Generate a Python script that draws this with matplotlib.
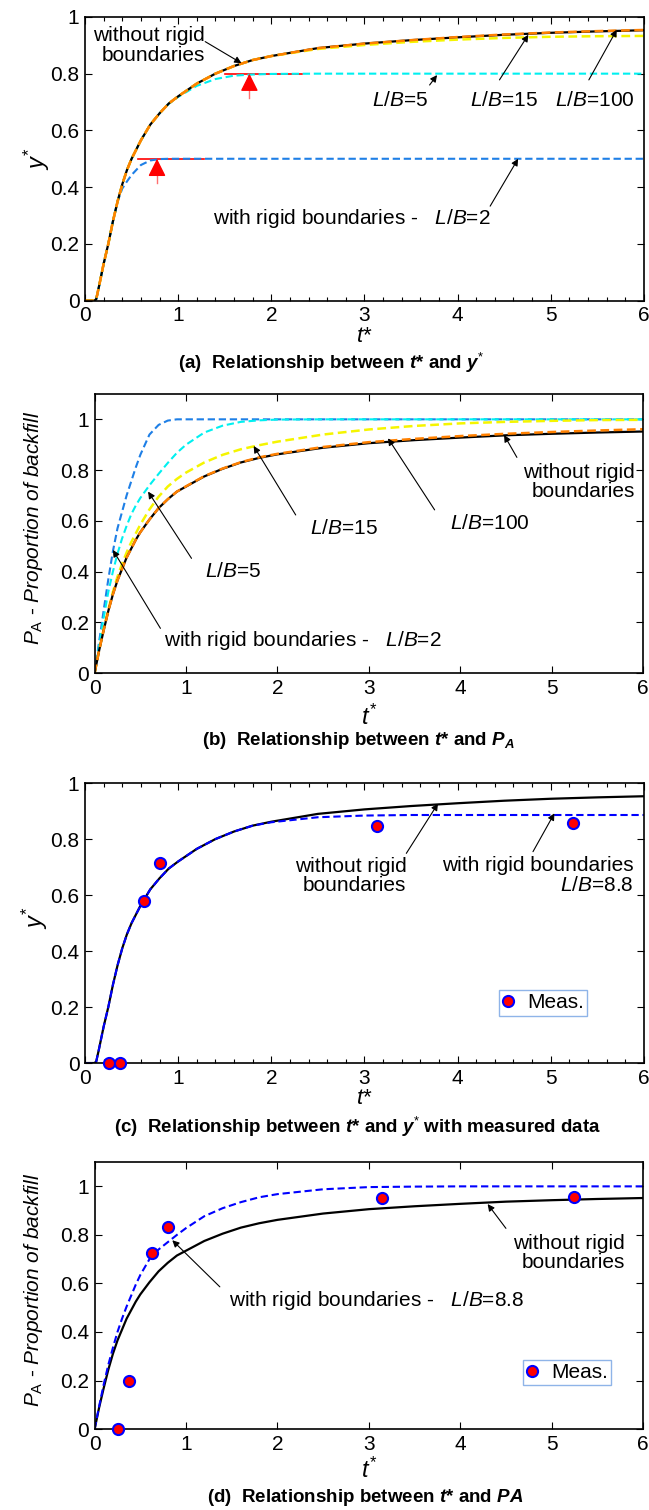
import numpy as np
import matplotlib
matplotlib.use("Agg")
import matplotlib.pyplot as plt
from matplotlib.ticker import MultipleLocator, FuncFormatter

plt.rcParams['font.family'] = ['Liberation Sans', 'DejaVu Sans']
plt.rcParams['mathtext.fontset'] = 'custom'
plt.rcParams['mathtext.rm'] = 'Liberation Sans'
plt.rcParams['mathtext.it'] = 'Liberation Sans:italic'
plt.rcParams['mathtext.bf'] = 'Liberation Sans:bold'
plt.rcParams['mathtext.bfit'] = 'Liberation Sans:italic:bold'

# --- data ---
t_y = [0, 0.1, 0.12, 0.15, 0.2, 0.25, 0.3, 0.35, 0.4, 0.45, 0.5, 0.6, 0.7, 0.8, 0.9,
       1.0, 1.2, 1.4, 1.6, 1.8, 2.0, 2.5, 3.0, 3.5, 4.0, 4.5, 5.0, 5.5, 6.0]
y_free = [0, 0, 0.005, 0.05, 0.13, 0.2, 0.28, 0.35, 0.41, 0.46, 0.50, 0.565, 0.62, 0.66, 0.695,
          0.72, 0.765, 0.80, 0.827, 0.848, 0.862, 0.89, 0.906, 0.918, 0.928, 0.937, 0.944, 0.949, 0.953]
y_lb100 = [0, 0, 0.005, 0.05, 0.13, 0.2, 0.28, 0.35, 0.41, 0.46, 0.50, 0.565, 0.62, 0.66, 0.695,
           0.72, 0.765, 0.80, 0.827, 0.848, 0.862, 0.89, 0.906, 0.918, 0.929, 0.938, 0.945, 0.950, 0.954]
y_lb15 = [0, 0, 0.005, 0.05, 0.13, 0.2, 0.28, 0.35, 0.41, 0.46, 0.50, 0.565, 0.62, 0.66, 0.695,
          0.72, 0.765, 0.80, 0.827, 0.848, 0.862, 0.887, 0.901, 0.912, 0.92, 0.926, 0.93, 0.932, 0.933]
y_lb5 = [0, 0, 0.005, 0.05, 0.13, 0.2, 0.28, 0.35, 0.41, 0.46, 0.50, 0.565, 0.62, 0.66, 0.694,
         0.718, 0.757, 0.781, 0.793, 0.797, 0.799, 0.8, 0.8, 0.8, 0.8, 0.8, 0.8, 0.8, 0.8]
y_lb2 = [0, 0, 0.005, 0.05, 0.13, 0.2, 0.28, 0.35, 0.395, 0.42, 0.443, 0.478, 0.494, 0.499, 0.5,
         0.5, 0.5, 0.5, 0.5, 0.5, 0.5, 0.5, 0.5, 0.5, 0.5, 0.5, 0.5, 0.5, 0.5]
y_lb88 = [0, 0, 0.005, 0.05, 0.13, 0.2, 0.28, 0.35, 0.41, 0.46, 0.50, 0.565, 0.62, 0.66, 0.695,
          0.72, 0.765, 0.80, 0.827, 0.848, 0.860, 0.878, 0.884, 0.886, 0.886, 0.886, 0.886, 0.886, 0.886]

t_p = [0, 0.05, 0.1, 0.15, 0.2, 0.25, 0.3, 0.35, 0.4, 0.45, 0.5, 0.6, 0.7, 0.8, 0.9,
       1.0, 1.2, 1.4, 1.6, 1.8, 2.0, 2.5, 3.0, 3.5, 4.0, 4.5, 5.0, 5.5, 6.0]
p_free = [0, 0.09, 0.17, 0.245, 0.31, 0.365, 0.41, 0.455, 0.49, 0.525, 0.555, 0.605, 0.65, 0.685, 0.715,
          0.735, 0.775, 0.805, 0.83, 0.848, 0.862, 0.888, 0.906, 0.918, 0.928, 0.937, 0.943, 0.948, 0.952]
p_lb100 = [0, 0.09, 0.17, 0.245, 0.31, 0.365, 0.41, 0.455, 0.49, 0.525, 0.555, 0.605, 0.65, 0.685, 0.715,
           0.736, 0.776, 0.806, 0.831, 0.85, 0.864, 0.891, 0.91, 0.923, 0.934, 0.943, 0.95, 0.956, 0.961]
p_lb15 = [0, 0.09, 0.175, 0.25, 0.32, 0.38, 0.43, 0.475, 0.515, 0.55, 0.585, 0.645, 0.695, 0.735, 0.765,
          0.79, 0.83, 0.86, 0.882, 0.898, 0.912, 0.94, 0.96, 0.974, 0.984, 0.99, 0.994, 0.997, 0.998]
p_lb5 = [0, 0.11, 0.22, 0.32, 0.40, 0.47, 0.53, 0.58, 0.625, 0.66, 0.69, 0.74, 0.785, 0.828, 0.868,
         0.90, 0.948, 0.975, 0.99, 0.996, 0.999, 1.0, 1.0, 1.0, 1.0, 1.0, 1.0, 1.0, 1.0]
p_lb2 = [0, 0.125, 0.25, 0.37, 0.48, 0.57, 0.635, 0.70, 0.755, 0.81, 0.86, 0.94, 0.978, 0.995, 1.0,
         1.0, 1.0, 1.0, 1.0, 1.0, 1.0, 1.0, 1.0, 1.0, 1.0, 1.0, 1.0, 1.0, 1.0]
p_lb88 = [0, 0.095, 0.185, 0.265, 0.335, 0.40, 0.455, 0.505, 0.55, 0.595, 0.635, 0.70, 0.74, 0.77, 0.80,
          0.828, 0.877, 0.91, 0.935, 0.955, 0.968, 0.988, 0.997, 0.999, 1.0, 1.0, 1.0, 1.0, 1.0]

t_meas = [0.26, 0.38, 0.63, 0.80, 3.14, 5.24]
y_meas = [0, 0, 0.579, 0.715, 0.848, 0.857]
p_meas = [0, 0.2, 0.724, 0.831, 0.951, 0.958]

BLUE = '#1E7FE6'
CYAN = '#00F0F0'
YELLOW = '#F5F500'
ORANGE = '#FF8000'
FS = 15
CAP = 13.5
LB = r'$\mathit{L/B}$'


def fmt(v, pos):
    return '%g' % v


def setup(ax, ymax, minor):
    ax.set_xlim(0, 6)
    ax.set_ylim(0, ymax)
    ax.xaxis.set_major_locator(MultipleLocator(1))
    ax.yaxis.set_major_locator(MultipleLocator(0.2))
    ax.xaxis.set_major_formatter(FuncFormatter(fmt))
    ax.yaxis.set_major_formatter(FuncFormatter(fmt))
    if minor:
        ax.xaxis.set_minor_locator(MultipleLocator(0.2))
        ax.tick_params(which='minor', direction='in', top=True, length=3, width=0.8)
    ax.tick_params(which='major', direction='in', top=True, right=True, length=5,
                   width=0.8, labelsize=FS, pad=4)
    for s in ax.spines.values():
        s.set_linewidth(1.2)


def arrow(ax, tail, tip):
    ax.annotate('', xy=tip, xytext=tail,
                arrowprops=dict(arrowstyle='-|>', color='k', lw=0.8,
                                mutation_scale=10, shrinkA=0, shrinkB=0))


def dashed(ax, x, y, c, lw=1.5):
    ax.plot(x, y, color=c, lw=lw, ls=(0, (3.5, 1.8)))


fig = plt.figure(figsize=(6.49, 15.10), dpi=100)

# ---------- (a) ----------
ax = fig.add_axes([0.131, 0.8009, 0.861, 0.1879])
setup(ax, 1.0, True)
ax.plot([0.57, 1.28], [0.5, 0.5], color='red', lw=1.2)
ax.plot([1.5, 2.33], [0.8, 0.8], color='red', lw=1.2)
dashed(ax, t_y, y_lb2, BLUE)
dashed(ax, t_y, y_lb5, CYAN)
ax.plot(t_y, y_free, color='k', lw=1.6)
dashed(ax, t_y, y_lb15, YELLOW, 1.8)
dashed(ax, t_y, y_lb100, ORANGE, 1.8)
for tx, ty in [(0.773, 0.5), (1.765, 0.8)]:
    ax.plot([tx, tx], [ty - 0.085, ty - 0.03], color='#FF7070', lw=1)
    ax.annotate('', xy=(tx, ty), xytext=(tx, ty - 0.03),
                arrowprops=dict(arrowstyle='-|>,head_length=0.6,head_width=0.3',
                                color='red', lw=1, mutation_scale=18,
                                shrinkA=0, shrinkB=0))
ax.text(1.29, 0.90, 'without rigid\nboundaries', fontsize=FS, ha='right', va='center',
        multialignment='right', linespacing=1.05)
arrow(ax, (1.29, 0.913), (1.68, 0.837))
ax.text(3.38, 0.707, LB + '=5', fontsize=FS, ha='center', va='center')
arrow(ax, (3.70, 0.76), (3.78, 0.795))
ax.text(4.5, 0.707, LB + '=15', fontsize=FS, ha='center', va='center')
arrow(ax, (4.45, 0.778), (4.76, 0.937))
ax.text(5.47, 0.707, LB + '=100', fontsize=FS, ha='center', va='center')
arrow(ax, (5.41, 0.778), (5.71, 0.955))
ax.text(2.86, 0.29, 'with rigid boundaries -   ' + LB + '=2', fontsize=FS, ha='center', va='center')
arrow(ax, (4.35, 0.333), (4.65, 0.5))
ax.set_xlabel('t*', fontsize=16, style='italic', va='center')
ax.xaxis.set_label_coords(0.5, -0.128)
ax.set_ylabel(r'$y^{*}$', fontsize=17, va='center')
ax.yaxis.set_label_coords(-0.086, 0.5)
fig.text(331 / 649, 1 - 363 / 1510,
         r'(a)  Relationship between $\mathbfit{t}$* and $\mathbfit{y}^{*}$',
         fontsize=CAP, weight='bold', ha='center', va='center')

# ---------- (b) ----------
ax = fig.add_axes([0.1458, 0.5543, 0.845, 0.1848])
setup(ax, 1.1, False)
dashed(ax, t_p, p_lb2, BLUE)
dashed(ax, t_p, p_lb5, CYAN)
dashed(ax, t_p, p_lb15, YELLOW, 1.8)
ax.plot(t_p, p_free, color='k', lw=1.6)
dashed(ax, t_p, p_lb100, ORANGE, 1.8)
ax.text(5.91, 0.753, 'without rigid\nboundaries', fontsize=FS, ha='right', va='center',
        multialignment='right', linespacing=1.05)
arrow(ax, (4.62, 0.85), (4.48, 0.938))
ax.text(4.32, 0.59, LB + '=100', fontsize=FS, ha='center', va='center')
arrow(ax, (3.72, 0.643), (3.21, 0.925))
ax.text(2.73, 0.57, LB + '=15', fontsize=FS, ha='center', va='center')
arrow(ax, (2.2, 0.623), (1.74, 0.895))
ax.text(1.52, 0.40, LB + '=5', fontsize=FS, ha='center', va='center')
arrow(ax, (1.06, 0.452), (0.585, 0.715))
ax.text(2.28, 0.13, 'with rigid boundaries -   ' + LB + '=2', fontsize=FS, ha='center', va='center')
arrow(ax, (0.72, 0.176), (0.2, 0.485))
ax.set_xlabel(r'$t^{*}$', fontsize=17, va='center')
ax.xaxis.set_label_coords(0.5, -0.157)
ax.set_ylabel(r'$P_{\mathrm{A}}$ - $\mathit{Proportion\ of\ backfill}$', fontsize=FS, va='center')
ax.yaxis.set_label_coords(-0.112, 0.52)
fig.text(358 / 649, 1 - 740 / 1510,
         r'(b)  Relationship between $\mathbfit{t}$* and $\mathbfit{P}_{\mathbfit{A}}$',
         fontsize=CAP, weight='bold', ha='center', va='center')

# ---------- (c) ----------
ax = fig.add_axes([0.131, 0.296, 0.861, 0.1854])
setup(ax, 1.0, True)
ax.plot(t_y, y_free, color='k', lw=1.6)
dashed(ax, t_y, y_lb88, 'blue')
ax.plot(t_meas, y_meas, 'o', color='red', mec='blue', mew=1.5, ms=8, clip_on=False,
        zorder=5, label='Meas.')
ax.text(3.45, 0.668, 'without rigid\nboundaries', fontsize=FS, ha='right', va='center',
        multialignment='right', linespacing=1.05)
arrow(ax, (3.45, 0.749), (3.79, 0.927))
ax.text(5.89, 0.671, 'with rigid boundaries\n' + LB + '=8.8', fontsize=FS, ha='right',
        va='center', multialignment='right', linespacing=1.05)
arrow(ax, (4.81, 0.755), (5.04, 0.892))
leg = ax.legend(loc='upper right', bbox_to_anchor=(0.898, 0.26), fontsize=FS, numpoints=1,
                handlelength=0.6, handletextpad=0.6, borderpad=0.15, borderaxespad=0,
                fancybox=False, framealpha=1)
leg.get_frame().set_edgecolor('#8FB4E8')
leg.get_frame().set_linewidth(1.0)
ax.set_xlabel('t*', fontsize=16, style='italic', va='center')
ax.xaxis.set_label_coords(0.5, -0.125)
ax.set_ylabel(r'$y^{*}$', fontsize=17, va='center')
ax.yaxis.set_label_coords(-0.089, 0.52)
fig.text(358 / 649, 1 - 1127 / 1510,
         r'(c)  Relationship between $\mathbfit{t}$* and $\mathbfit{y}^{*}$ with measured data',
         fontsize=CAP, weight='bold', ha='center', va='center')

# ---------- (d) ----------
ax = fig.add_axes([0.1458, 0.0536, 0.845, 0.1768])
setup(ax, 1.1, False)
ax.plot(t_p, p_free, color='k', lw=1.6)
dashed(ax, t_p, p_lb88, 'blue')
ax.plot(t_meas, p_meas, 'o', color='red', mec='blue', mew=1.5, ms=8, clip_on=False,
        zorder=5, label='Meas.')
ax.text(5.80, 0.725, 'without rigid\nboundaries', fontsize=FS, ha='right', va='center',
        multialignment='right', linespacing=1.05)
arrow(ax, (4.5, 0.827), (4.3, 0.927))
ax.text(3.09, 0.53, 'with rigid boundaries -   ' + LB + '=8.8', fontsize=FS, ha='center',
        va='center')
arrow(ax, (1.37, 0.586), (0.85, 0.778))
leg = ax.legend(loc='upper right', bbox_to_anchor=(0.942, 0.258), fontsize=FS, numpoints=1,
                handlelength=0.6, handletextpad=0.6, borderpad=0.15, borderaxespad=0,
                fancybox=False, framealpha=1)
leg.get_frame().set_edgecolor('#8FB4E8')
leg.get_frame().set_linewidth(1.0)
ax.set_xlabel(r'$t^{*}$', fontsize=17, va='center')
ax.xaxis.set_label_coords(0.5, -0.154)
ax.set_ylabel(r'$P_{\mathrm{A}}$ - $\mathit{Proportion\ of\ backfill}$', fontsize=FS, va='center')
ax.yaxis.set_label_coords(-0.112, 0.52)
fig.text(365 / 649, 1 - 1497 / 1510,
         r'(d)  Relationship between $\mathbfit{t}$* and $\mathbfit{PA}$',
         fontsize=CAP, weight='bold', ha='center', va='center')

fig.savefig('out.png', dpi=100)
